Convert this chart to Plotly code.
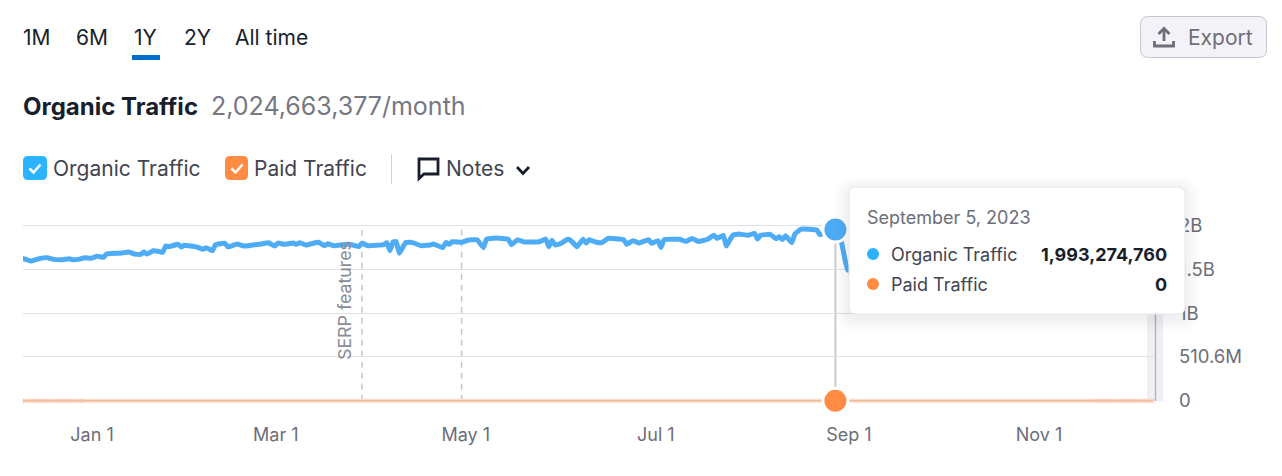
import pandas as pd
import plotly.graph_objects as go

# chart values
day_zero = pd.Timestamp("2023-01-01")
organic_days = [
    -14, -11, -9, -6, -4, -1, 1, 2, 4, 6, 8, 10, 12, 13, 16, 18, 20, 22, 24, 25, 26, 28, 30, 31, 32, 33,
    36, 37, 38, 42, 44, 45, 47, 48, 51, 52, 55, 57, 60, 62, 65, 67, 68, 70, 73, 74, 75, 77, 81, 83, 84, 86,
    89, 91, 94, 95, 97, 102, 103, 104, 105, 106, 107, 109, 111, 114, 116, 117, 118, 121, 122, 123, 124, 127,
    129, 132, 134, 135, 138, 142, 143, 145, 147, 152, 154, 155, 156, 157, 159, 161, 162, 164, 166, 167, 168,
    170, 172, 174, 179, 180, 182, 184, 187, 188, 190, 191, 192, 197, 199, 201, 203, 206, 208, 209, 211, 212,
    214, 216, 219, 221, 222, 223, 226, 228, 229, 230, 231, 233, 234, 236, 241, 242, 247, 249, 251, 260, 300, 349,
]
organic_millions = [
    1658, 1627, 1650, 1666, 1646, 1642, 1654, 1642, 1646, 1666, 1658, 1682, 1670, 1708, 1717, 1720, 1732, 1708, 1704, 1732, 1708, 1747, 1736, 1728, 1801, 1794,
    1821, 1790, 1810, 1790, 1763, 1782, 1747, 1817, 1833, 1790, 1825, 1801, 1813, 1821, 1840, 1801, 1836, 1821, 1836, 1821, 1840, 1813, 1844, 1805, 1828, 1805,
    1817, 1821, 1794, 1833, 1805, 1817, 1840, 1747, 1848, 1853, 1717, 1840, 1844, 1805, 1810, 1813, 1825, 1782, 1844, 1821, 1851, 1844,
    1868, 1875, 1782, 1880, 1894, 1880, 1817, 1875, 1848, 1851, 1883, 1794, 1868, 1813, 1833, 1880, 1868, 1794, 1880, 1836, 1875,
    1848, 1840, 1890, 1875, 1821, 1864, 1836, 1875, 1833, 1864, 1786, 1875, 1880, 1855, 1890, 1855, 1880, 1926, 1890, 1926, 1801,
    1926, 1941, 1926, 1948, 1883, 1926, 1937, 1887, 1910, 1875, 1920, 1840, 1941, 1999, 1988, 1933, 1993, 1836, 1522, 1500, 1510, 1500,
]
paid_days = [-14, 349]
paid_millions = [0, 0]
hover_day = 247
hover_organic = 1993
hover_paid = 0
note_days = [95, 127]
y_ticks = [0, 510.6, 1021.2, 1531.8, 2042.4]
y_labels = ["0", "510.6M", "1B", "1.5B", "2B"]
x_ticks = ["2023-01-01", "2023-03-01", "2023-05-01", "2023-07-01", "2023-09-01", "2023-11-01"]
x_labels = ["Jan 1", "Mar 1", "May 1", "Jul 1", "Sep 1", "Nov 1"]
range_tabs = ["1M", "6M", "1Y", "2Y", "All time"]

FONT = "Inter"
DARK = "#181e2b"
GREY = "#6c6e79"
BLUE = "#4dacf5"
ORANGE = "#ff8c42"

# plot box in page pixels
LEFT, RIGHT, TOP, BOTTOM = 23, 1155, 215, 405


def to_date(day):
    return day_zero + pd.Timedelta(days=day)


def px(x):
    return (x - LEFT) / (RIGHT - LEFT)


def py(y):
    return (BOTTOM - y) / (BOTTOM - TOP)


def pt(x, y):
    return f"{px(x):.5f},{py(y):.5f}"


def rounded(x0, y0, x1, y1, r):
    return (
        f"M{pt(x0 + r, y0)} L{pt(x1 - r, y0)} Q{pt(x1, y0)} {pt(x1, y0 + r)} "
        f"L{pt(x1, y1 - r)} Q{pt(x1, y1)} {pt(x1 - r, y1)} "
        f"L{pt(x0 + r, y1)} Q{pt(x0, y1)} {pt(x0, y1 - r)} "
        f"L{pt(x0, y0 + r)} Q{pt(x0, y0)} {pt(x0 + r, y0)} Z"
    )


def page_path(path, fill=None, line=None, width=1, layer="above"):
    return dict(
        type="path", xref="paper", yref="paper", path=path, layer=layer,
        fillcolor=fill or "rgba(0,0,0,0)",
        line=dict(color=line or "rgba(0,0,0,0)", width=width if line else 0),
    )


def polyline(points):
    return "M" + " L".join(pt(x, y) for x, y in points)


def label(text, x, y, size=21, color=DARK, weight=None, anchor="left", angle=0):
    # annotations pad their text by about 2px, so pull the box back
    nudge = {"left": -2, "right": 2, "center": 0}[anchor]
    return dict(
        text=text, x=px(x + nudge), y=py(y), xref="paper", yref="paper", showarrow=False,
        xanchor=anchor, yanchor="middle", textangle=angle,
        font=dict(family=FONT, size=size, color=color, weight=weight),
    )


fig = go.Figure()

fig.add_trace(go.Scatter(
    x=[to_date(d) for d in organic_days], y=organic_millions, mode="lines",
    line=dict(color=BLUE, width=5, shape="spline", smoothing=0.3), hoverinfo="skip",
))
fig.add_trace(go.Scatter(
    x=[to_date(d) for d in paid_days], y=paid_millions, mode="lines", cliponaxis=False,
    line=dict(color="#fadccb", width=4), hoverinfo="skip",
))
fig.add_trace(go.Scatter(
    x=[to_date(d) for d in paid_days], y=paid_millions, mode="lines", cliponaxis=False,
    line=dict(color="#f4bb9a", width=1.5), hoverinfo="skip",
))
fig.add_trace(go.Scatter(
    x=[to_date(hover_day)] * 2, y=[hover_organic, hover_paid], mode="markers", cliponaxis=False,
    marker=dict(color=[BLUE, ORANGE], size=25, line=dict(color="white", width=3)), hoverinfo="skip",
))

shapes = []

# grey marker at the end of the series
shapes.append(page_path(rounded(1147, 226, 1163, 401, 0), fill="#eff0f4", layer="below"))
shapes.append(page_path(polyline([(1155.5, 226), (1155.5, 401)]), line="#b5b7bf", width=1.5, layer="below"))

for day in note_days:
    shapes.append(dict(
        type="line", xref="x", yref="y", x0=to_date(day), x1=to_date(day), y0=0, y1=y_ticks[-1],
        line=dict(color="#c4c6cc", width=1.5, dash="6px,5px"), layer="below",
    ))
shapes.append(dict(
    type="line", xref="x", yref="y", x0=to_date(hover_day), x1=to_date(hover_day),
    y0=hover_paid, y1=hover_organic, line=dict(color="#c8cad1", width=2), layer="below",
))

# dotted edges on the paid line at both ends of the range
for x0, x1 in [(23, 85), (1093, 1155)]:
    for y in [399.3, 402.3]:
        shapes.append(dict(
            type="line", xref="paper", yref="paper", x0=px(x0), x1=px(x1), y0=py(y), y1=py(y),
            line=dict(color="#f4bb9a", width=1, dash="1px,2px"), layer="above",
        ))

# tab underline, divider
shapes.append(page_path(rounded(132, 55, 160, 60, 0), fill="#006dca"))
shapes.append(page_path(polyline([(391.5, 154), (391.5, 184)]), line="#d1d4db", width=1))

# checkboxes
for x0, x1, color in [(23, 47, "#2bb3ff"), (225, 248, ORANGE)]:
    shapes.append(page_path(rounded(x0, 156, x1, 180, 5), fill=color))
    shapes.append(page_path(
        polyline([(x0 + 6.5, 168.5), (x0 + 10.5, 172.5), (x0 + 17.5, 164.5)]), line="white", width=2.5,
    ))

# notes icon and chevron
shapes.append(page_path(
    f"M{pt(419, 159)} L{pt(438, 159)} L{pt(438, 174)} L{pt(424, 174)} L{pt(419, 178.5)} Z",
    line=DARK, width=2.8,
))
shapes.append(page_path(polyline([(517, 167), (523, 173.5), (529, 167)]), line=DARK, width=2.8))

# export button
shapes.append(page_path(rounded(1140.5, 16.5, 1266.5, 57.5, 8), fill="#f3f3f7", line="#c4c7cf", width=1))
shapes.append(page_path(polyline([(1164, 41), (1164, 29)]), line=GREY, width=2.8))
shapes.append(page_path(polyline([(1158.5, 34), (1164, 28.5), (1169.5, 34)]), line=GREY, width=2.8))
shapes.append(page_path(polyline([(1154.5, 41), (1154.5, 46), (1173.5, 46), (1173.5, 41)]), line=GREY, width=2.8))

# tooltip: soft shadow first, then the card
for grow in range(14, 0, -2):
    shapes.append(page_path(
        rounded(849 - grow, 187 - grow + 4, 1185 + grow, 314 + grow + 4, 6 + grow), fill="rgba(50,50,90,0.01)",
    ))
shapes.append(page_path(rounded(849, 187, 1185, 314, 7), fill="white", line="#e6e7ec", width=1))
for y, color in [(254, "#2bb3ff"), (284, ORANGE)]:
    shapes.append(dict(
        type="circle", xref="paper", yref="paper", layer="above", fillcolor=color, line=dict(width=0),
        x0=px(867), x1=px(879), y0=py(y + 6), y1=py(y - 6),
    ))

tab_x = [23, 76, 134, 184, 235]
annotations = [label(t, x, 37.5) for t, x in zip(range_tabs, tab_x)]
annotations += [
    label("Organic Traffic", 23, 106, size=24, weight=700),
    label("2,024,663,377/month", 211, 106, size=25, color="#757782"),
    label("Organic Traffic", 53, 168.5, color="#42444f"),
    label("Paid Traffic", 254, 168.5, color="#42444f"),
    label("Notes", 446, 168.5, color="#42444f"),
    label("Export", 1188, 37.5, color=GREY),
    label("SERP features", 344, 301, size=17.8, color="#8a8c95", anchor="center", angle=-90),
    label("September 5, 2023", 867, 217.5, size=18, color=GREY),
    label("Organic Traffic", 891, 254, size=18, color="#42444f"),
    label("Paid Traffic", 891, 284, size=18, color="#42444f"),
    label("1,993,274,760", 1167, 254, size=18, weight=700, anchor="right"),
    label("0", 1167, 284, size=18, weight=700, anchor="right"),
]

# px/day taken from the month tick spacing, Jan 1 sits at x=66
x_start = day_zero + pd.Timedelta(days=(LEFT - 66) / 3.115)
x_end = day_zero + pd.Timedelta(days=(RIGHT - 66) / 3.115)
# 0 at y=400.8, top grid line at y=225.3
per_px = y_ticks[-1] / 175.5

fig.update_layout(
    width=1282, height=476,
    margin=dict(l=LEFT, r=1282 - RIGHT, t=TOP, b=476 - BOTTOM, pad=0),
    paper_bgcolor="white", plot_bgcolor="white",
    showlegend=False,
    font=dict(family=FONT, size=17, color=GREY),
    xaxis=dict(
        type="date", range=[x_start, x_end], tickvals=x_ticks, ticktext=x_labels,
        showgrid=False, zeroline=False, showline=False, ticks="",
        ticklabelshift=26, ticklabelstandoff=17,
        tickfont=dict(family=FONT, size=18, color=GREY),
    ),
    yaxis=dict(
        side="right", range=[(400.8 - BOTTOM) * per_px, (400.8 - TOP) * per_px],
        tickvals=y_ticks, ticktext=y_labels,
        showgrid=True, gridcolor="#e0e1e7", gridwidth=1, zeroline=False, showline=False, ticks="",
        ticklabelstandoff=23,
        tickfont=dict(family=FONT, size=18.5, color=GREY),
    ),
    shapes=shapes,
    annotations=annotations,
)

fig.write_html(
    "out.html",
    config=dict(displayModeBar=False),
    post_script="document.body.style.margin='0';document.body.style.overflow='hidden';",
)
